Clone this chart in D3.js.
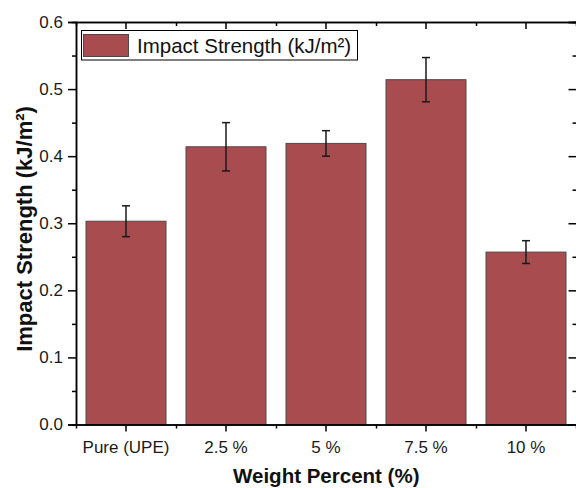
<!DOCTYPE html>
<html>
<head>
<meta charset="utf-8">
<script src="https://cdn.jsdelivr.net/npm/d3@7"></script>
<style>
  html, body { margin: 0; padding: 0; background: #fff; }
  svg { display: block; }
  text { font-family: "Liberation Sans", Arial, sans-serif; }
</style>
</head>
<body>
<svg id="chart" width="576" height="488"></svg>
<script>
const categories = ["Pure (UPE)", "2.5 %", "5 %", "7.5 %", "10 %"];
const values = [0.303, 0.414, 0.419, 0.514, 0.257];
const errors = [0.023, 0.036, 0.019, 0.033, 0.017];
const yMajorTicks = [0, 0.1, 0.2, 0.3, 0.4, 0.5, 0.6];
const yMinorTicks = [0.05, 0.15, 0.25, 0.35, 0.45, 0.55];
const xMinorTicks = [1.5, 2.5, 3.5, 4.5];
const seriesName = "Impact Strength (kJ/m²)";
const yTitle = "Impact Strength (kJ/m²)";
const xTitle = "Weight Percent (%)";

const barFill = "#a84c50";
const barStroke = "#4a4a4a";

const svg = d3.select("#chart");
const L = 76, R = 576.5, T = 22, B = 424.5;

const x = d3.scaleBand().domain(categories).range([L, R - 0.5]).paddingInner(0.2).paddingOuter(0.1);
const xLin = d3.scaleLinear().domain([0.5, 5.5]).range([L, R - 0.5]);
const y = d3.scaleLinear().domain([0, 0.6]).range([B, T]);

// bars
svg.append("g").selectAll("rect").data(values).join("rect")
  .attr("x", (d, i) => x(categories[i]))
  .attr("y", d => y(d))
  .attr("width", x.bandwidth())
  .attr("height", d => y(0) - y(d))
  .attr("fill", barFill)
  .attr("stroke", barStroke)
  .attr("stroke-width", 1);

// error bars
const eg = svg.append("g").attr("stroke", "#1a1a1a").attr("stroke-width", 1.5);
values.forEach((v, i) => {
  const cx = x(categories[i]) + x.bandwidth() / 2;
  const y1 = y(v + errors[i]), y0 = y(v - errors[i]);
  eg.append("line").attr("x1", cx).attr("x2", cx).attr("y1", y1).attr("y2", y0);
  eg.append("line").attr("x1", cx - 4).attr("x2", cx + 4).attr("y1", y1).attr("y2", y1);
  eg.append("line").attr("x1", cx - 4).attr("x2", cx + 4).attr("y1", y0).attr("y2", y0);
});

function styleAxis(g) {
  g.selectAll(".domain").attr("stroke", "#000").attr("stroke-width", 1.5);
  g.selectAll(".tick line").attr("stroke", "#000").attr("stroke-width", 1.5);
  g.selectAll(".tick text").attr("fill", "#1a1a1a")
    .style("font-size", "17px");
}

// left axis
const gl = svg.append("g").attr("transform", `translate(${L},0)`)
  .call(d3.axisLeft(y).tickValues(yMajorTicks).tickSize(8).tickPadding(5).tickFormat(d3.format(".1f")));
styleAxis(gl);
const glm = svg.append("g").attr("transform", `translate(${L},0)`)
  .call(d3.axisLeft(y).tickValues(yMinorTicks).tickSize(4).tickFormat(""));
styleAxis(glm);

// right axis (inward ticks)
const gr = svg.append("g").attr("transform", `translate(${R},0)`)
  .call(d3.axisRight(y).tickValues(yMajorTicks).tickSize(-8).tickFormat(""));
styleAxis(gr);
const grm = svg.append("g").attr("transform", `translate(${R},0)`)
  .call(d3.axisRight(y).tickValues(yMinorTicks).tickSize(-4).tickFormat(""));
styleAxis(grm);

// bottom axis
const gb = svg.append("g").attr("transform", `translate(0,${B})`)
  .call(d3.axisBottom(x).tickSize(7).tickPadding(9).tickSizeOuter(0));
styleAxis(gb);
const gbm = svg.append("g").attr("transform", `translate(0,${B})`)
  .call(d3.axisBottom(xLin).tickValues(xMinorTicks).tickSize(4).tickFormat(""));
styleAxis(gbm);

// top axis (inward ticks)
const gt = svg.append("g").attr("transform", `translate(0,${T})`)
  .call(d3.axisTop(x).tickSize(-7).tickFormat("").tickSizeOuter(0));
styleAxis(gt);
const gtm = svg.append("g").attr("transform", `translate(0,${T})`)
  .call(d3.axisTop(xLin).tickValues(xMinorTicks).tickSize(-4).tickFormat(""));
styleAxis(gtm);

// legend
const lg = svg.append("g");
lg.append("rect").attr("x", 81.5).attr("y", 30.5).attr("width", 276).attr("height", 29.5)
  .attr("fill", "#fff").attr("stroke", "#000").attr("stroke-width", 1);
lg.append("rect").attr("x", 83.5).attr("y", 34.5).attr("width", 45).attr("height", 22)
  .attr("fill", barFill).attr("stroke", barStroke).attr("stroke-width", 1);
lg.append("text").attr("x", 137).attr("y", 52.5).attr("fill", "#111")
  .style("font-size", "20.5px").text(seriesName);

// axis titles
svg.append("text").attr("x", (L + R) / 2).attr("y", 483).attr("text-anchor", "middle")
  .attr("fill", "#111").style("font-size", "20.5px").style("font-weight", "bold").text(xTitle);
svg.append("text").attr("transform", "translate(32,229) rotate(-90)").attr("text-anchor", "middle")
  .attr("fill", "#111").style("font-size", "22px").style("font-weight", "bold").text(yTitle);
</script>
</body>
</html>
